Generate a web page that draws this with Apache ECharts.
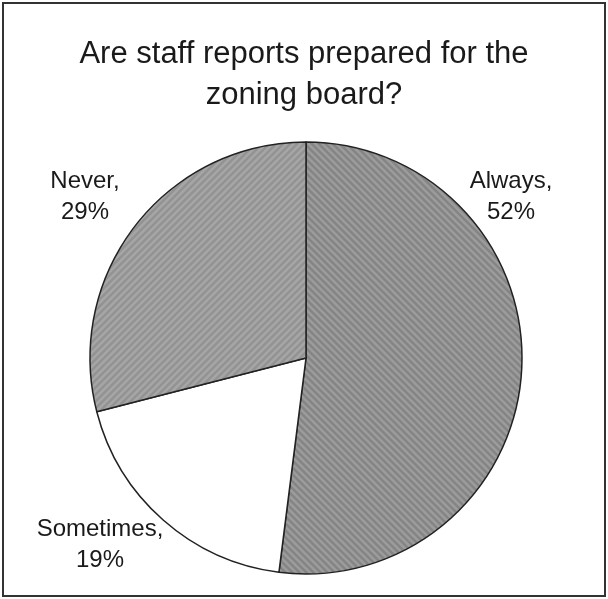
<!DOCTYPE html>
<html>
<head>
<meta charset="utf-8">
<script src="https://cdn.jsdelivr.net/npm/echarts@6/dist/echarts.min.js"></script>
<style>
  html, body { margin: 0; padding: 0; background: #fff; }
  #chart { width: 608px; height: 599px; }
</style>
</head>
<body>
<div id="chart"></div>
<script>
// 数据
var categories = ['Always', 'Sometimes', 'Never'];
var values = [52, 19, 29];
var titleText = 'Are staff reports prepared for the\nzoning board?';

// 斜线填充
function stripes(base, line, dir) {
  var s = 7;
  var c = document.createElement('canvas');
  c.width = s;
  c.height = s;
  var ctx = c.getContext('2d');
  ctx.fillStyle = base;
  ctx.fillRect(0, 0, s, s);
  ctx.strokeStyle = line;
  ctx.lineWidth = 2.5;
  ctx.beginPath();
  for (var k = -1; k <= 1; k++) {
    if (dir > 0) {
      ctx.moveTo(k * s - 1, -1);
      ctx.lineTo(k * s + s + 1, s + 1);
    } else {
      ctx.moveTo(k * s + s + 1, -1);
      ctx.lineTo(k * s - 1, s + 1);
    }
  }
  ctx.stroke();
  return { image: c, repeat: 'repeat' };
}

var fills = [
  stripes('#9c9c9c', '#858585', 1),
  '#ffffff',
  stripes('#a6a6a6', '#939393', -1)
];
// 标签位置
var labelPos = [
  { x: 511, y: 197 },
  { x: 100, y: 545 },
  { x: 85, y: 197 }
];

var chart = echarts.init(document.getElementById('chart'));
var option = {
  backgroundColor: '#fff',
  animation: false,
  title: {
    text: titleText,
    left: 'center',
    top: 29,
    textStyle: {
      fontFamily: 'Liberation Sans',
      fontSize: 31,
      fontWeight: 'normal',
      color: '#1a1a1a',
      lineHeight: 41,
    },
  },
  graphic: [
    {
      type: 'rect',
      shape: { x: 3, y: 3, width: 602, height: 593 },
      style: { fill: 'none', stroke: '#333', lineWidth: 2 },
    },
  ],
  series: [
    {
      type: 'pie',
      center: [306, 358],
      radius: 216,
      startAngle: 90,
      clockwise: true,
      label: {
        show: true,
        formatter: '{b},\n{c}%',
        fontFamily: 'Liberation Sans',
        fontSize: 24,
        lineHeight: 31,
        color: '#1a1a1a',
        align: 'center',
        width: 200,
        overflow: 'none',
      },
      labelLine: { show: false },
      labelLayout: function (params) {
        var p = labelPos[params.dataIndex];
        return { x: p.x, y: p.y, align: 'center', verticalAlign: 'middle' };
      },
      itemStyle: {
        borderColor: '#222',
        borderWidth: 1.5,
      },
      emphasis: { disabled: true },
      data: categories.map(function (name, i) {
        return { name: name, value: values[i], itemStyle: { color: fills[i] } };
      }),
    },
  ],
};
chart.setOption(option);
</script>
</body>
</html>
